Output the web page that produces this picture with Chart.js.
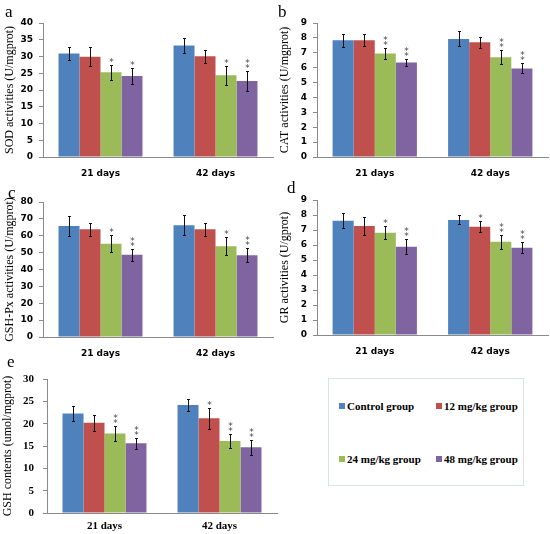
<!DOCTYPE html>
<html>
<head>
<meta charset="utf-8">
<script src="https://cdn.jsdelivr.net/npm/chart.js@4.4.1/dist/chart.umd.min.js"></script>
<style>
  body { margin:0; background:#fff; width:550px; height:534px; position:relative; overflow:hidden; }
  .panel { position:absolute; }
  .tag { position:absolute; font-family:"Liberation Serif", serif; font-size:17px; line-height:1; }
  #legend { position:absolute; left:328px; top:378px; width:194px; height:106px; border:1px solid #d8e2e7; }
  .item { position:absolute; font-family:"Liberation Serif", serif; font-weight:bold; font-size:11px; line-height:1; white-space:nowrap; }
  .item i { display:inline-block; width:6px; height:6px; margin-right:2px; vertical-align:1px; }
</style>
</head>
<body>
<div class="panel" style="left:0;top:0"><canvas id="cA" width="276" height="182"></canvas></div>
<div class="panel" style="left:275px;top:0"><canvas id="cB" width="275" height="182"></canvas></div>
<div class="panel" style="left:0;top:182px"><canvas id="cC" width="276" height="180"></canvas></div>
<div class="panel" style="left:275px;top:182px"><canvas id="cD" width="275" height="180"></canvas></div>
<div class="panel" style="left:0;top:362px"><canvas id="cE" width="282" height="172"></canvas></div>

<span class="tag" style="left:5px;top:3px">a</span>
<span class="tag" style="left:278px;top:3px">b</span>
<span class="tag" style="left:8px;top:184px">c</span>
<span class="tag" style="left:287px;top:179px">d</span>
<span class="tag" style="left:7px;top:353px">e</span>

<div id="legend"></div>

<script>
const days = ['21 days', '42 days'];
const groupNames = ['Control group', '12 mg/kg group', '24 mg/kg group', '48 mg/kg group'];
const groupColors = ['#4F81BD', '#C0504D', '#9BBB59', '#8064A2'];

// one row per group: [21 days, 42 days]
const sodMean = [[30.9, 33.3], [29.9, 30.1], [25.3, 24.4], [24.2, 22.7]];
const sodErr  = [[2.0, 2.2], [2.8, 1.9], [2.2, 2.9], [2.3, 3.0]];
const sodSig  = [['', ''], ['', ''], ['*', '*'], ['*', '**']];

const catMean = [[7.84, 7.93], [7.84, 7.70], [6.95, 6.70], [6.35, 5.95]];
const catErr  = [[0.45, 0.50], [0.40, 0.38], [0.37, 0.47], [0.22, 0.33]];
const catSig  = [['', ''], ['', ''], ['**', '**'], ['**', '**']];

const gpxMean = [[65.8, 66.2], [63.8, 63.8], [55.3, 53.8], [48.8, 48.4]];
const gpxErr  = [[5.9, 5.9], [3.7, 3.7], [5.0, 5.2], [3.5, 4.2]];
const gpxSig  = [['', ''], ['', ''], ['*', '*'], ['**', '**']];

const grMean = [[7.62, 7.67], [7.27, 7.22], [6.82, 6.22], [5.89, 5.82]];
const grErr  = [[0.50, 0.30], [0.60, 0.35], [0.45, 0.47], [0.50, 0.37]];
const grSig  = [['', ''], ['', '*'], ['*', '**'], ['**', '**']];

const gshMean = [[22.3, 24.2], [20.2, 21.2], [17.8, 16.1], [15.6, 14.7]];
const gshErr  = [[1.75, 1.3], [1.75, 2.3], [1.65, 1.5], [1.3, 1.7]];
const gshSig  = [['', ''], ['', '*'], ['**', '**'], ['**', '**']];

// --- error bars + significance stars ---
function errorBars(err, sig) {
  return {
    id: 'errorBars',
    afterDatasetsDraw(chart) {
      const ctx = chart.ctx, y = chart.scales.y;
      chart.data.datasets.forEach((ds, i) => {
        chart.getDatasetMeta(i).data.forEach((bar, j) => {
          const m = ds.data[j], e = err[i][j];
          const top = Math.round(y.getPixelForValue(m + e));
          const bot = Math.round(y.getPixelForValue(m - e));
          const x = Math.round(bar.x) + 0.5;
          ctx.save();
          ctx.strokeStyle = '#111'; ctx.lineWidth = 1;
          ctx.beginPath();
          ctx.moveTo(x, top); ctx.lineTo(x, bot);
          ctx.moveTo(x - 1.5, top + 0.5); ctx.lineTo(x + 1.5, top + 0.5);
          ctx.moveTo(x - 1.5, bot + 0.5); ctx.lineTo(x + 1.5, bot + 0.5);
          ctx.stroke();
          const s = sig[i][j];
          ctx.fillStyle = '#444'; ctx.font = '9px "DejaVu Sans"'; ctx.textAlign = 'center';
          for (let k = 0; k < s.length; k++) {
            ctx.fillText('*', x, top - k * 5);
          }
          ctx.restore();
        });
      });
    }
  };
}

function makePanel(id, box, area, mean, err, sig, yMax, yStep, title, opt) {
  const tickFont = opt.serif
    ? { family: 'Liberation Serif', size: 11, weight: 'bold' }
    : { family: 'DejaVu Sans', size: 9, weight: 'bold' };
  new Chart(document.getElementById(id), {
    type: 'bar',
    data: {
      labels: days,
      datasets: groupNames.map((g, i) => ({
        label: g, data: mean[i], backgroundColor: groupColors[i],
        borderWidth: 0, barPercentage: 1, categoryPercentage: 0.73
      }))
    },
    options: {
      responsive: false, animation: false, devicePixelRatio: 1,
      layout: { padding: { top: area.t - box.top, right: box.left + box.w - area.r, left: 0, bottom: 0 } },
      plugins: { legend: { display: false }, tooltip: { enabled: false } },
      scales: {
        x: {
          grid: { display: false, drawTicks: false },
          border: { color: '#8a8a8a' },
          ticks: { font: tickFont, color: '#000', padding: opt.serif ? 7 : 11 },
          afterFit: s => { s.height = box.top + box.h - area.b; }
        },
        y: {
          min: 0, max: yMax,
          ticks: { stepSize: yStep, font: tickFont, color: '#000', padding: opt.serif ? 9 : 6 },
          grid: { drawOnChartArea: false, tickLength: 4, color: '#8a8a8a' },
          border: { color: '#8a8a8a' },
          title: { display: true, text: title, color: '#000',
                   font: { family: 'Liberation Serif', size: 12 }, padding: { top: opt.tp, bottom: 0 } },
          afterFit: s => { s.width = area.l - box.left; }
        }
      }
    },
    plugins: [errorBars(err, sig)]
  });
}

makePanel('cA', { left: 0, top: 0, w: 276, h: 182 }, { l: 43, t: 23, r: 273, b: 157 },
  sodMean, sodErr, sodSig, 40, 5, 'SOD activities (U/mgprot)', { tp: 3 });
makePanel('cB', { left: 275, top: 0, w: 275, h: 182 }, { l: 317, t: 23, r: 548, b: 157 },
  catMean, catErr, catSig, 9, 1, 'CAT activities (U/mgprot)', { tp: 3 });
makePanel('cC', { left: 0, top: 182, w: 276, h: 180 }, { l: 43, t: 202, r: 273, b: 337 },
  gpxMean, gpxErr, gpxSig, 80, 10, 'GSH-Px activities (U/mgprot)', { tp: 3 });
makePanel('cD', { left: 275, top: 182, w: 275, h: 180 }, { l: 317, t: 200, r: 548, b: 335 },
  grMean, grErr, grSig, 9, 1, 'GR activities (U/gprot)', { tp: 3 });
makePanel('cE', { left: 0, top: 362, w: 282, h: 172 }, { l: 47, t: 379, r: 277, b: 513 },
  gshMean, gshErr, gshSig, 30, 5, 'GSH contents (umol/mgprot)', { tp: 1, serif: true });

// legend box
const legend = document.getElementById('legend');
const legendPos = [[10, 22], [107, 22], [10, 75], [107, 75]];
groupNames.forEach((g, i) => {
  const el = document.createElement('div');
  el.className = 'item';
  el.style.left = legendPos[i][0] + 'px';
  el.style.top = legendPos[i][1] + 'px';
  el.innerHTML = `<i style="background:${groupColors[i]}"></i>${g}`;
  legend.appendChild(el);
});
</script>
</body>
</html>
